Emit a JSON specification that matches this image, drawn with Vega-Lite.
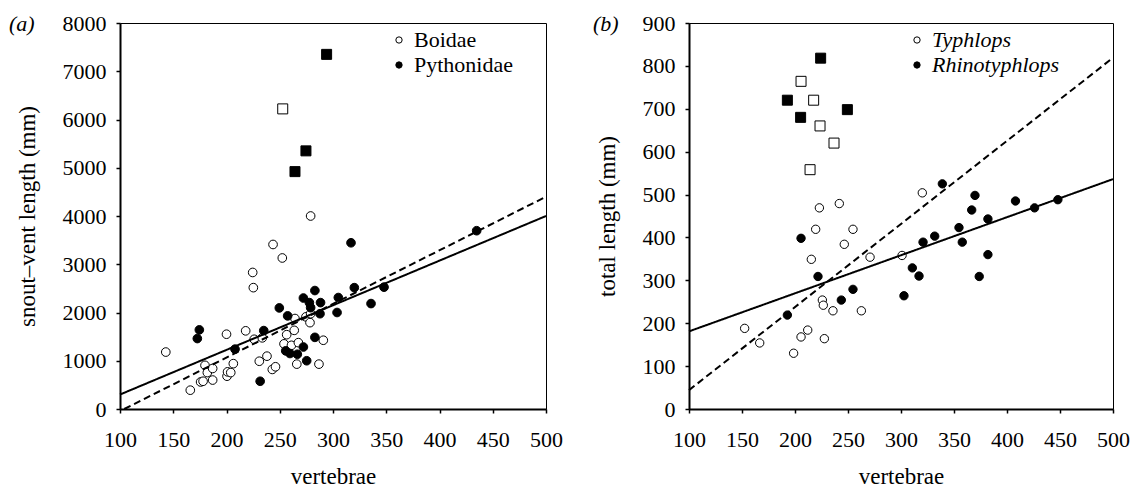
{
  "$schema": "https://vega.github.io/schema/vega-lite/v6.json",
  "padding": {"left": 8, "top": 11, "right": 0, "bottom": 0},
  "background": "white",
  "spacing": 29,
  "resolve": {"scale": {"fill": "independent", "shape": "independent", "size": "independent", "strokeDash": "independent"}, "legend": {"fill": "independent"}},
  "config": {
    "font": "Liberation Serif",
    "view": {"stroke": "black", "strokeWidth": 1},
    "axis": {
      "domainColor": "black", "domainWidth": 2, "tickColor": "black", "tickWidth": 1.5, "tickSize": 4,
      "labelFont": "Liberation Serif", "labelFontSize": 22, "labelColor": "black",
      "titleFont": "Liberation Serif", "titleFontSize": 23, "titleFontWeight": "normal", "titleColor": "black",
      "grid": false, "format": "d", "labelFlush": false, "labelOverlap": false
    },
    "legend": {
      "title": null, "orient": "none", "padding": 0, "rowPadding": 3, "labelOffset": 4,
      "labelFont": "Liberation Serif", "labelFontSize": 22, "labelColor": "black",
      "symbolSize": 40, "symbolStrokeColor": "black", "symbolStrokeWidth": 1, "symbolType": "circle"
    },
    "title": {"fontSize": 22, "fontWeight": "normal", "fontStyle": "italic", "font": "Liberation Serif", "color": "black", "anchor": "start", "frame": "bounds", "baseline": "alphabetic", "offset": 4}
  },
  "hconcat": [
    {
      "width": 426, "height": 386,
      "title": {"text": "(a)", "dx": -7, "dy": 28},
      "layer": [
        {
          "data": {"values": [
            {"vertebrae": 143, "svl": 1180, "family": "Boidae", "marker": "circle"},
            {"vertebrae": 166, "svl": 390, "family": "Boidae", "marker": "circle"},
            {"vertebrae": 175.7, "svl": 560, "family": "Boidae", "marker": "circle"},
            {"vertebrae": 178, "svl": 575, "family": "Boidae", "marker": "circle"},
            {"vertebrae": 179.8, "svl": 905, "family": "Boidae", "marker": "circle"},
            {"vertebrae": 182, "svl": 755, "family": "Boidae", "marker": "circle"},
            {"vertebrae": 187, "svl": 840, "family": "Boidae", "marker": "circle"},
            {"vertebrae": 187, "svl": 600, "family": "Boidae", "marker": "circle"},
            {"vertebrae": 200, "svl": 1550, "family": "Boidae", "marker": "circle"},
            {"vertebrae": 200.5, "svl": 680, "family": "Boidae", "marker": "circle"},
            {"vertebrae": 201, "svl": 770, "family": "Boidae", "marker": "circle"},
            {"vertebrae": 204, "svl": 755, "family": "Boidae", "marker": "circle"},
            {"vertebrae": 206.4, "svl": 940, "family": "Boidae", "marker": "circle"},
            {"vertebrae": 218, "svl": 1620, "family": "Boidae", "marker": "circle"},
            {"vertebrae": 224.6, "svl": 2830, "family": "Boidae", "marker": "circle"},
            {"vertebrae": 225.2, "svl": 2515, "family": "Boidae", "marker": "circle"},
            {"vertebrae": 226, "svl": 1445, "family": "Boidae", "marker": "circle"},
            {"vertebrae": 233.6, "svl": 1475, "family": "Boidae", "marker": "circle"},
            {"vertebrae": 230.8, "svl": 990, "family": "Boidae", "marker": "circle"},
            {"vertebrae": 238, "svl": 1095, "family": "Boidae", "marker": "circle"},
            {"vertebrae": 243, "svl": 820, "family": "Boidae", "marker": "circle"},
            {"vertebrae": 246, "svl": 875, "family": "Boidae", "marker": "circle"},
            {"vertebrae": 243.7, "svl": 3410, "family": "Boidae", "marker": "circle"},
            {"vertebrae": 252.4, "svl": 3130, "family": "Boidae", "marker": "circle"},
            {"vertebrae": 254, "svl": 1350, "family": "Boidae", "marker": "circle"},
            {"vertebrae": 256.5, "svl": 1540, "family": "Boidae", "marker": "circle"},
            {"vertebrae": 261, "svl": 1320, "family": "Boidae", "marker": "circle"},
            {"vertebrae": 263.6, "svl": 1630, "family": "Boidae", "marker": "circle"},
            {"vertebrae": 264.3, "svl": 1875, "family": "Boidae", "marker": "circle"},
            {"vertebrae": 267.5, "svl": 1375, "family": "Boidae", "marker": "circle"},
            {"vertebrae": 266, "svl": 930, "family": "Boidae", "marker": "circle"},
            {"vertebrae": 274.6, "svl": 1910, "family": "Boidae", "marker": "circle"},
            {"vertebrae": 278.4, "svl": 1790, "family": "Boidae", "marker": "circle"},
            {"vertebrae": 279, "svl": 4000, "family": "Boidae", "marker": "circle"},
            {"vertebrae": 279, "svl": 1975, "family": "Boidae", "marker": "circle"},
            {"vertebrae": 286.8, "svl": 930, "family": "Boidae", "marker": "circle"},
            {"vertebrae": 290.9, "svl": 1425, "family": "Boidae", "marker": "circle"},
            {"vertebrae": 174.5, "svl": 1640, "family": "Pythonidae", "marker": "circle"},
            {"vertebrae": 172.6, "svl": 1460, "family": "Pythonidae", "marker": "circle"},
            {"vertebrae": 208, "svl": 1240, "family": "Pythonidae", "marker": "circle"},
            {"vertebrae": 231.6, "svl": 575, "family": "Pythonidae", "marker": "circle"},
            {"vertebrae": 235, "svl": 1625, "family": "Pythonidae", "marker": "circle"},
            {"vertebrae": 249.6, "svl": 2095, "family": "Pythonidae", "marker": "circle"},
            {"vertebrae": 257.4, "svl": 1930, "family": "Pythonidae", "marker": "circle"},
            {"vertebrae": 255.6, "svl": 1205, "family": "Pythonidae", "marker": "circle"},
            {"vertebrae": 259.6, "svl": 1150, "family": "Pythonidae", "marker": "circle"},
            {"vertebrae": 266.5, "svl": 1135, "family": "Pythonidae", "marker": "circle"},
            {"vertebrae": 272.2, "svl": 1285, "family": "Pythonidae", "marker": "circle"},
            {"vertebrae": 272.2, "svl": 2300, "family": "Pythonidae", "marker": "circle"},
            {"vertebrae": 277.8, "svl": 2205, "family": "Pythonidae", "marker": "circle"},
            {"vertebrae": 279, "svl": 2100, "family": "Pythonidae", "marker": "circle"},
            {"vertebrae": 283, "svl": 2455, "family": "Pythonidae", "marker": "circle"},
            {"vertebrae": 288.3, "svl": 2205, "family": "Pythonidae", "marker": "circle"},
            {"vertebrae": 287.8, "svl": 1975, "family": "Pythonidae", "marker": "circle"},
            {"vertebrae": 283, "svl": 1485, "family": "Pythonidae", "marker": "circle"},
            {"vertebrae": 275.3, "svl": 1000, "family": "Pythonidae", "marker": "circle"},
            {"vertebrae": 305, "svl": 2310, "family": "Pythonidae", "marker": "circle"},
            {"vertebrae": 303.8, "svl": 2000, "family": "Pythonidae", "marker": "circle"},
            {"vertebrae": 316.9, "svl": 3445, "family": "Pythonidae", "marker": "circle"},
            {"vertebrae": 320, "svl": 2515, "family": "Pythonidae", "marker": "circle"},
            {"vertebrae": 335.7, "svl": 2185, "family": "Pythonidae", "marker": "circle"},
            {"vertebrae": 347.9, "svl": 2525, "family": "Pythonidae", "marker": "circle"},
            {"vertebrae": 434.9, "svl": 3695, "family": "Pythonidae", "marker": "circle"},
            {"vertebrae": 294, "svl": 7350, "family": "Pythonidae", "marker": "square"},
            {"vertebrae": 274.6, "svl": 5350, "family": "Pythonidae", "marker": "square"},
            {"vertebrae": 264.3, "svl": 4920, "family": "Pythonidae", "marker": "square"},
            {"vertebrae": 252.8, "svl": 6220, "family": "Boidae", "marker": "square"}
          ]},
          "mark": {"type": "point", "filled": true, "stroke": "black", "strokeWidth": 1, "opacity": 1},
          "encoding": {
            "x": {"field": "vertebrae", "type": "quantitative", "scale": {"domain": [100, 500], "nice": false, "zero": false},
                  "axis": {"values": [100, 150, 200, 250, 300, 350, 400, 450, 500], "title": "vertebrae", "labelPadding": 16, "titlePadding": 15}},
            "y": {"field": "svl", "type": "quantitative", "scale": {"domain": [0, 8000], "nice": false},
                  "axis": {"values": [0, 1000, 2000, 3000, 4000, 5000, 6000, 7000, 8000], "title": "snout\u2013vent length (mm)", "labelPadding": 10, "minExtent": 58, "maxExtent": 58, "titlePadding": 23}},
            "fill": {"field": "family", "type": "nominal", "scale": {"domain": ["Boidae", "Pythonidae"], "range": ["white", "black"]},
                     "legend": {"legendX": 268, "legendY": 6}},
            "shape": {"field": "marker", "type": "nominal", "scale": {"domain": ["circle", "square"], "range": ["circle", "square"]}, "legend": null},
            "size": {"field": "marker", "type": "ordinal", "scale": {"domain": ["circle", "square"], "range": [75, 100]}, "legend": null}
          }
        },
        {
          "data": {"values": [
            {"vertebrae": 100, "svl": 300, "fit": "solid"},
            {"vertebrae": 500, "svl": 4000, "fit": "solid"},
            {"vertebrae": 104, "svl": 0, "fit": "dashed"},
            {"vertebrae": 500, "svl": 4400, "fit": "dashed"}
          ]},
          "mark": {"type": "line", "color": "black", "strokeWidth": 2},
          "encoding": {
            "x": {"field": "vertebrae", "type": "quantitative"},
            "y": {"field": "svl", "type": "quantitative"},
            "detail": {"field": "fit", "type": "nominal"},
            "strokeDash": {"field": "fit", "type": "nominal", "scale": {"domain": ["solid", "dashed"], "range": [[1, 0], [7, 4]]}, "legend": null}
          }
        }
      ]
    },
    {
      "width": 424, "height": 386,
      "title": {"text": "(b)", "dx": -3, "dy": 28},
      "layer": [
        {
          "data": {"values": [
            {"vertebrae": 152.5, "tl": 188, "genus": "Typhlops", "marker": "circle"},
            {"vertebrae": 166.7, "tl": 154, "genus": "Typhlops", "marker": "circle"},
            {"vertebrae": 198.7, "tl": 130, "genus": "Typhlops", "marker": "circle"},
            {"vertebrae": 205.7, "tl": 168, "genus": "Typhlops", "marker": "circle"},
            {"vertebrae": 212, "tl": 184, "genus": "Typhlops", "marker": "circle"},
            {"vertebrae": 227.7, "tl": 164, "genus": "Typhlops", "marker": "circle"},
            {"vertebrae": 225.8, "tl": 254, "genus": "Typhlops", "marker": "circle"},
            {"vertebrae": 226.7, "tl": 242, "genus": "Typhlops", "marker": "circle"},
            {"vertebrae": 235.8, "tl": 229, "genus": "Typhlops", "marker": "circle"},
            {"vertebrae": 262.6, "tl": 229, "genus": "Typhlops", "marker": "circle"},
            {"vertebrae": 215.4, "tl": 349, "genus": "Typhlops", "marker": "circle"},
            {"vertebrae": 219.5, "tl": 419, "genus": "Typhlops", "marker": "circle"},
            {"vertebrae": 223, "tl": 469, "genus": "Typhlops", "marker": "circle"},
            {"vertebrae": 241.8, "tl": 479, "genus": "Typhlops", "marker": "circle"},
            {"vertebrae": 246.5, "tl": 384, "genus": "Typhlops", "marker": "circle"},
            {"vertebrae": 254.7, "tl": 419, "genus": "Typhlops", "marker": "circle"},
            {"vertebrae": 270.8, "tl": 354, "genus": "Typhlops", "marker": "circle"},
            {"vertebrae": 301, "tl": 358, "genus": "Typhlops", "marker": "circle"},
            {"vertebrae": 320.1, "tl": 504, "genus": "Typhlops", "marker": "circle"},
            {"vertebrae": 192.8, "tl": 219, "genus": "Rhinotyphlops", "marker": "circle"},
            {"vertebrae": 205.7, "tl": 398, "genus": "Rhinotyphlops", "marker": "circle"},
            {"vertebrae": 221.7, "tl": 309, "genus": "Rhinotyphlops", "marker": "circle"},
            {"vertebrae": 243.7, "tl": 254, "genus": "Rhinotyphlops", "marker": "circle"},
            {"vertebrae": 254.7, "tl": 279, "genus": "Rhinotyphlops", "marker": "circle"},
            {"vertebrae": 302.8, "tl": 264, "genus": "Rhinotyphlops", "marker": "circle"},
            {"vertebrae": 310.7, "tl": 329, "genus": "Rhinotyphlops", "marker": "circle"},
            {"vertebrae": 317, "tl": 310, "genus": "Rhinotyphlops", "marker": "circle"},
            {"vertebrae": 320.8, "tl": 389, "genus": "Rhinotyphlops", "marker": "circle"},
            {"vertebrae": 331.8, "tl": 403, "genus": "Rhinotyphlops", "marker": "circle"},
            {"vertebrae": 339, "tl": 525, "genus": "Rhinotyphlops", "marker": "circle"},
            {"vertebrae": 354.7, "tl": 423, "genus": "Rhinotyphlops", "marker": "circle"},
            {"vertebrae": 357.8, "tl": 389, "genus": "Rhinotyphlops", "marker": "circle"},
            {"vertebrae": 366.7, "tl": 464, "genus": "Rhinotyphlops", "marker": "circle"},
            {"vertebrae": 369.8, "tl": 498, "genus": "Rhinotyphlops", "marker": "circle"},
            {"vertebrae": 373.8, "tl": 309, "genus": "Rhinotyphlops", "marker": "circle"},
            {"vertebrae": 382, "tl": 443, "genus": "Rhinotyphlops", "marker": "circle"},
            {"vertebrae": 382, "tl": 360, "genus": "Rhinotyphlops", "marker": "circle"},
            {"vertebrae": 408, "tl": 485, "genus": "Rhinotyphlops", "marker": "circle"},
            {"vertebrae": 426, "tl": 469, "genus": "Rhinotyphlops", "marker": "circle"},
            {"vertebrae": 448, "tl": 488, "genus": "Rhinotyphlops", "marker": "circle"},
            {"vertebrae": 224.2, "tl": 818, "genus": "Rhinotyphlops", "marker": "square"},
            {"vertebrae": 192.8, "tl": 720, "genus": "Rhinotyphlops", "marker": "square"},
            {"vertebrae": 205.3, "tl": 680, "genus": "Rhinotyphlops", "marker": "square"},
            {"vertebrae": 249.4, "tl": 698, "genus": "Rhinotyphlops", "marker": "square"},
            {"vertebrae": 205.7, "tl": 764, "genus": "Typhlops", "marker": "square"},
            {"vertebrae": 217.6, "tl": 720, "genus": "Typhlops", "marker": "square"},
            {"vertebrae": 223.6, "tl": 660, "genus": "Typhlops", "marker": "square"},
            {"vertebrae": 236.8, "tl": 620, "genus": "Typhlops", "marker": "square"},
            {"vertebrae": 214.2, "tl": 558, "genus": "Typhlops", "marker": "square"}
          ]},
          "mark": {"type": "point", "filled": true, "stroke": "black", "strokeWidth": 1, "opacity": 1},
          "encoding": {
            "x": {"field": "vertebrae", "type": "quantitative", "scale": {"domain": [100, 500], "nice": false, "zero": false},
                  "axis": {"values": [100, 150, 200, 250, 300, 350, 400, 450, 500], "title": "vertebrae", "labelPadding": 16, "titlePadding": 15}},
            "y": {"field": "tl", "type": "quantitative", "scale": {"domain": [0, 900], "nice": false},
                  "axis": {"values": [0, 100, 200, 300, 400, 500, 600, 700, 800, 900], "title": "total length (mm)", "labelPadding": 10, "minExtent": 47, "maxExtent": 47, "titlePadding": 23}},
            "fill": {"field": "genus", "type": "nominal", "scale": {"domain": ["Typhlops", "Rhinotyphlops"], "range": ["white", "black"]},
                     "legend": {"legendX": 217, "legendY": 6, "labelFontStyle": "italic"}},
            "shape": {"field": "marker", "type": "nominal", "scale": {"domain": ["circle", "square"], "range": ["circle", "square"]}, "legend": null},
            "size": {"field": "marker", "type": "ordinal", "scale": {"domain": ["circle", "square"], "range": [70, 100]}, "legend": null}
          }
        },
        {
          "data": {"values": [
            {"vertebrae": 100, "tl": 181, "fit": "solid"},
            {"vertebrae": 500, "tl": 536, "fit": "solid"},
            {"vertebrae": 100, "tl": 44, "fit": "dashed"},
            {"vertebrae": 500, "tl": 819, "fit": "dashed"}
          ]},
          "mark": {"type": "line", "color": "black", "strokeWidth": 2},
          "encoding": {
            "x": {"field": "vertebrae", "type": "quantitative"},
            "y": {"field": "tl", "type": "quantitative"},
            "detail": {"field": "fit", "type": "nominal"},
            "strokeDash": {"field": "fit", "type": "nominal", "scale": {"domain": ["solid", "dashed"], "range": [[1, 0], [7, 4]]}, "legend": null}
          }
        }
      ]
    }
  ]
}
